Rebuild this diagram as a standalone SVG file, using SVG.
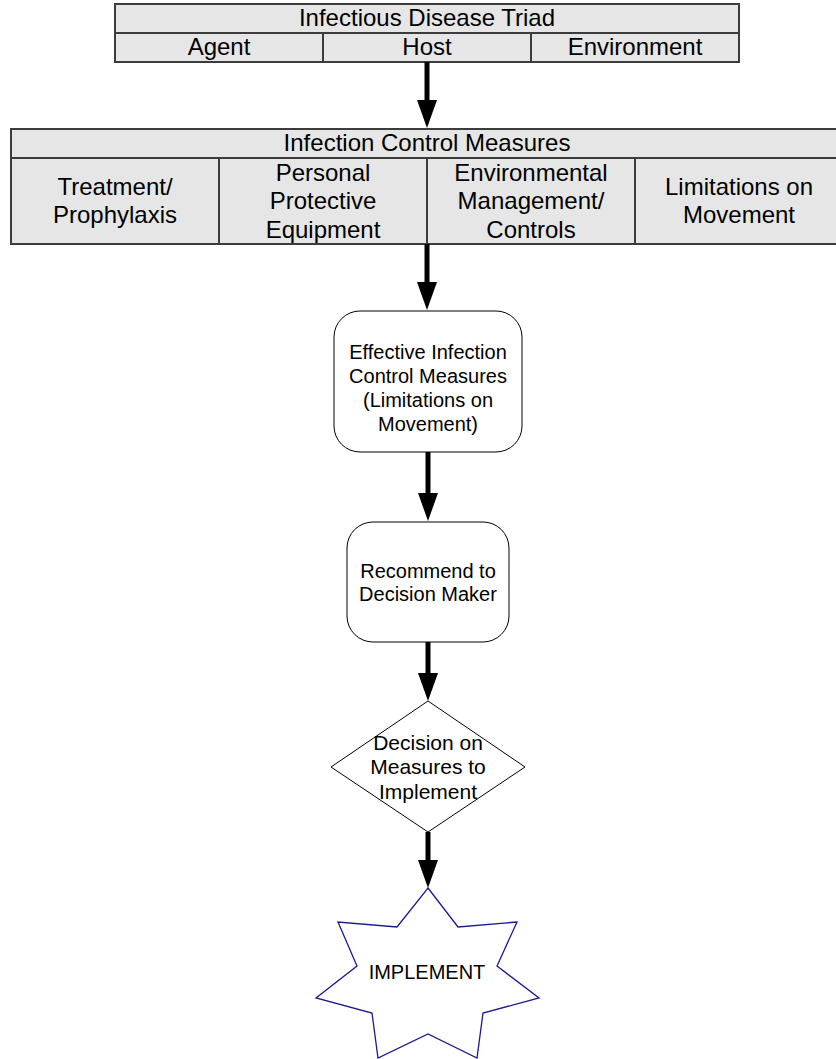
<svg xmlns="http://www.w3.org/2000/svg" width="836" height="1059" viewBox="0 0 836 1059">
  <style>
    .cell { fill: #e6e6e6; stroke: #3c3c3c; stroke-width: 2; }
    .box { fill: #ffffff; stroke: #000000; stroke-width: 1; }
    .star { fill: #ffffff; stroke: #1a1a8c; stroke-width: 1.3; }
    .t { font-family: "Liberation Sans", Arial, sans-serif; font-size: 24px; fill: #000000; text-anchor: middle; }
    .s { font-family: "Liberation Sans", Arial, sans-serif; font-size: 20px; fill: #000000; text-anchor: middle; }
    .d { font-family: "Liberation Sans", Arial, sans-serif; font-size: 21px; fill: #000000; text-anchor: middle; }
    .conn { stroke: #000000; stroke-width: 5; fill: none; marker-end: url(#head); }
  </style>
  <defs>
    <marker id="head" markerUnits="userSpaceOnUse" markerWidth="28" markerHeight="20" refX="1" refY="10" orient="auto">
      <path d="M0,0 L28,10 L0,20 Z" fill="#000000"/>
    </marker>
  </defs>

  <rect width="836" height="1059" fill="#ffffff"/>

  <!-- Infectious disease triad table -->
  <g id="triad">
    <rect class="cell" x="115" y="4" width="624" height="29"/>
    <rect class="cell" x="115" y="33" width="208" height="29"/>
    <rect class="cell" x="323" y="33" width="208" height="29"/>
    <rect class="cell" x="531" y="33" width="208" height="29"/>
    <text class="t" x="427" y="26">Infectious Disease Triad</text>
    <text class="t" x="219" y="55">Agent</text>
    <text class="t" x="427" y="55">Host</text>
    <text class="t" x="635" y="55">Environment</text>
  </g>

  <!-- Infection control measures table -->
  <g id="measures">
    <rect class="cell" x="11" y="129" width="834" height="29"/>
    <rect class="cell" x="11" y="158" width="208" height="86"/>
    <rect class="cell" x="219" y="158" width="208" height="86"/>
    <rect class="cell" x="427" y="158" width="208" height="86"/>
    <rect class="cell" x="635" y="158" width="210" height="86"/>
    <text class="t" x="427" y="151">Infection Control Measures</text>
    <text class="t" x="115" y="195">Treatment/</text>
    <text class="t" x="115" y="223">Prophylaxis</text>
    <text class="t" x="323" y="181">Personal</text>
    <text class="t" x="323" y="209">Protective</text>
    <text class="t" x="323" y="238">Equipment</text>
    <text class="t" x="531" y="181">Environmental</text>
    <text class="t" x="531" y="209">Management/</text>
    <text class="t" x="531" y="238">Controls</text>
    <text class="t" x="739" y="195">Limitations on</text>
    <text class="t" x="739" y="223">Movement</text>
  </g>

  <!-- Effective measures -->
  <g id="effective">
    <rect class="box" x="334" y="311" width="188" height="141" rx="26" ry="26"/>
    <text class="s" x="428" y="359">Effective Infection</text>
    <text class="s" x="428" y="383">Control Measures</text>
    <text class="s" x="428" y="407">(Limitations on</text>
    <text class="s" x="428" y="431">Movement)</text>
  </g>

  <!-- Recommendation -->
  <g id="recommend">
    <rect class="box" x="347" y="522" width="162" height="120" rx="26" ry="26"/>
    <text class="s" x="428" y="578">Recommend to</text>
    <text class="s" x="428" y="601">Decision Maker</text>
  </g>

  <!-- Decision -->
  <g id="decision">
    <polygon class="box" points="428,701 525,767 428,832 331,767"/>
    <text class="d" x="428" y="750">Decision on</text>
    <text class="d" x="428" y="774">Measures to</text>
    <text class="d" x="428" y="799">Implement</text>
  </g>

  <!-- Implement -->
  <g id="implement">
    <polygon class="star" points="428,888 458,927 517,922 497,966 539,998 483,1013 477,1058 428,1034 378,1058 372,1013 316,998 357,966 338,922 397,927"/>
    <text class="s" x="427" y="979">IMPLEMENT</text>
  </g>

  <!-- Connectors -->
  <g id="connectors">
    <line class="conn" x1="427" y1="62" x2="427" y2="101"/>
    <line class="conn" x1="427" y1="244" x2="427" y2="283"/>
    <line class="conn" x1="428" y1="452" x2="428" y2="494"/>
    <line class="conn" x1="428" y1="642" x2="428" y2="674"/>
    <line class="conn" x1="428" y1="832" x2="428" y2="861"/>
  </g>
</svg>
